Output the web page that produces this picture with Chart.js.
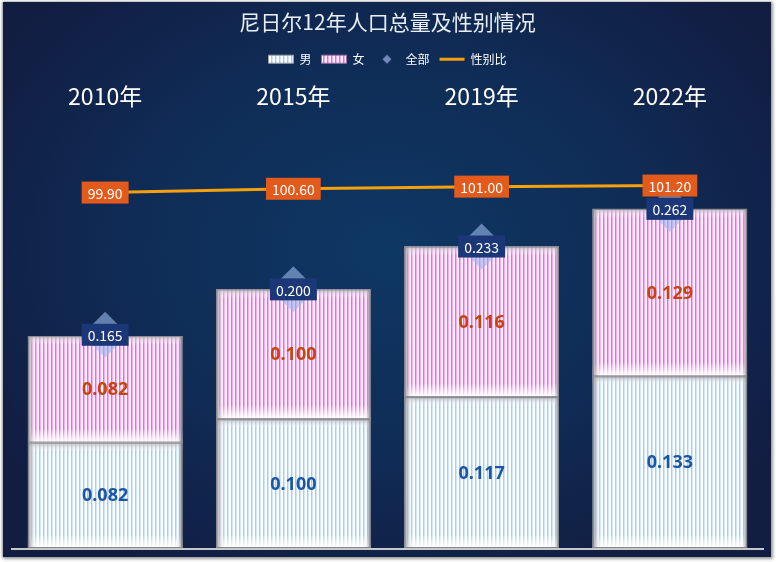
<!DOCTYPE html>
<html>
<head>
<meta charset="utf-8">
<script src="https://cdn.jsdelivr.net/npm/chart.js@4.4.0/dist/chart.umd.min.js"></script>
<style>
  html, body { margin: 0; padding: 0; background: #fff; }
  #frame {
    position: absolute; left: 3px; top: 2px; width: 768px; height: 555px;
    background: radial-gradient(ellipse 60% 65% at 50% 45%, #0e3864 0%, #0f2c56 55%, #121d42 100%);
    box-shadow: 1px 1px 3px 1px #9a9a9a, -1px 0 2px #b0b0b0;
  }
  canvas { display: block; }
</style>
</head>
<body>
<div id="frame"><canvas id="c" width="768" height="555"></canvas></div>
<script>
// data
const years = ['2010年', '2015年', '2019年', '2022年'];
const male = [0.082, 0.100, 0.117, 0.133];
const female = [0.082, 0.100, 0.116, 0.129];
const total = [0.165, 0.200, 0.233, 0.262];
const sexRatio = [99.90, 100.60, 101.00, 101.20];

Chart.defaults.font.family = '"Noto Sans CJK SC", "Noto Sans", sans-serif';

function stripes(bg, line) {
  const c = document.createElement('canvas');
  c.width = 4; c.height = 4;
  const g = c.getContext('2d');
  g.fillStyle = bg; g.fillRect(0, 0, 4, 4);
  g.fillStyle = line; g.fillRect(0, 0, 1.5, 4);
  return g.createPattern(c, 'repeat');
}
const malePattern = stripes('#ffffff', '#9fd0f5');
const femalePattern = stripes('#fff4ff', '#ff5cf5');

// small diamond for the legend
const legendDiamond = document.createElement('canvas');
legendDiamond.width = 12; legendDiamond.height = 12;
(function () {
  const g = legendDiamond.getContext('2d');
  g.fillStyle = '#7088bb';
  g.beginPath();
  g.moveTo(6, 1.5); g.lineTo(10.5, 6); g.lineTo(6, 10.5); g.lineTo(1.5, 6);
  g.closePath(); g.fill();
})();

// bevel look on the bars
const bevel = {
  id: 'bevel',
  afterDatasetDraw(chart, args) {
    if (args.index > 1) return;
    const ctx = chart.ctx;
    args.meta.data.forEach(el => {
      const { x, y, base, width } = el.getProps(['x', 'y', 'base', 'width'], true);
      const l = x - width / 2, r = x + width / 2;
      const t = Math.min(y, base), b = Math.max(y, base), h = b - t;
      ctx.save();
      let g = ctx.createLinearGradient(0, t, 0, t + 9);
      g.addColorStop(0, 'rgba(175,175,180,0.9)'); g.addColorStop(1, 'rgba(255,255,255,0)');
      ctx.fillStyle = g; ctx.fillRect(l, t, width, 9);
      g = ctx.createLinearGradient(0, b - 14, 0, b);
      g.addColorStop(0, 'rgba(255,255,255,0)'); g.addColorStop(1, 'rgba(255,255,255,1)');
      ctx.fillStyle = g; ctx.fillRect(l, b - 14, width, 14);
      g = ctx.createLinearGradient(l, 0, l + 9, 0);
      g.addColorStop(0, 'rgba(140,140,145,0.9)'); g.addColorStop(1, 'rgba(255,255,255,0)');
      ctx.fillStyle = g; ctx.fillRect(l, t, 9, h);
      g = ctx.createLinearGradient(r, 0, r - 6, 0);
      g.addColorStop(0, 'rgba(100,100,105,0.8)'); g.addColorStop(1, 'rgba(255,255,255,0)');
      ctx.fillStyle = g; ctx.fillRect(r - 6, t, 6, h);
      ctx.strokeStyle = '#85858c'; ctx.lineWidth = 1;
      ctx.strokeRect(l + 0.5, t + 0.5, width - 1, h - 1);
      ctx.restore();
    });
  }
};

function boxLabel(ctx, text, x, y, bg) {
  ctx.font = '14px "Noto Sans CJK SC", sans-serif';
  const w = ctx.measureText(text).width + 12, h = 22;
  ctx.fillStyle = bg;
  ctx.fillRect(x - w / 2, y - h / 2, w, h);
  ctx.fillStyle = '#ffffff';
  ctx.fillText(text, x, y + 1);
}

const valueLabels = {
  id: 'valueLabels',
  afterDatasetsDraw(chart) {
    const ctx = chart.ctx;
    ctx.save();
    ctx.textAlign = 'center';
    ctx.textBaseline = 'middle';
    [[0, '#1a56a5'], [1, '#c4440c']].forEach(([di, col]) => {
      chart.getDatasetMeta(di).data.forEach((el, i) => {
        ctx.font = 'bold 18px "Noto Sans", sans-serif';
        ctx.fillStyle = col;
        ctx.fillText(chart.data.datasets[di].data[i].toFixed(3), el.x, (el.y + el.base) / 2 + 1);
      });
    });
    chart.getDatasetMeta(2).data.forEach((el, i) => {
      boxLabel(ctx, total[i].toFixed(3), el.x, el.y, '#1c3777');
    });
    chart.getDatasetMeta(3).data.forEach((el, i) => {
      boxLabel(ctx, sexRatio[i].toFixed(2), el.x, el.y, '#e25a1c');
    });
    ctx.restore();
  }
};

new Chart(document.getElementById('c'), {
  type: 'bar',
  data: {
    labels: years,
    datasets: [
      { label: '男', data: male, backgroundColor: malePattern, borderWidth: 0, stack: 's', order: 3 },
      { label: '女', data: female, backgroundColor: femalePattern, borderWidth: 0, stack: 's', order: 4 },
      {
        type: 'line', label: '全部', data: total, showLine: false, stack: 't', order: 2,
        pointStyle: 'rectRot', pointRadius: 23, pointHoverRadius: 23, pointBorderWidth: 0,
        pointBackgroundColor: 'rgba(150,180,230,0.62)'
      },
      {
        type: 'line', label: '性别比', data: sexRatio, yAxisID: 'y2', order: 1,
        borderColor: '#f5a00c', borderWidth: 3, pointRadius: 0, tension: 0
      }
    ]
  },
  options: {
    responsive: false,
    animation: false,
    layout: { autoPadding: false, padding: { left: 8, right: 7, bottom: 8 } },
    datasets: { bar: { categoryPercentage: 1, barPercentage: 0.82 } },
    plugins: {
      title: {
        display: true, text: '尼日尔12年人口总量及性别情况', color: '#e8eef6',
        font: { size: 21, weight: 'normal' }, padding: { top: 7, bottom: 9 }
      },
      legend: {
        labels: {
          color: '#ffffff', font: { size: 12 }, usePointStyle: true,
          pointStyleWidth: 25, boxHeight: 8, padding: 10,
          generateLabels(chart) {
            const st = [
              { pointStyle: 'rect', fillStyle: malePattern, strokeStyle: '#a0a0a8', lineWidth: 1 },
              { pointStyle: 'rect', fillStyle: femalePattern, strokeStyle: '#a070a8', lineWidth: 1 },
              { pointStyle: legendDiamond, fillStyle: '#7088bb', strokeStyle: '#7088bb', lineWidth: 0 },
              { pointStyle: 'line', fillStyle: '#f5a00c', strokeStyle: '#f5a00c', lineWidth: 3 }
            ];
            return chart.data.datasets.map((ds, i) => Object.assign({
              text: ds.label, fontColor: '#ffffff', datasetIndex: i, hidden: false
            }, st[i]));
          }
        }
      },
      tooltip: { enabled: false }
    },
    scales: {
      x: {
        position: 'top',
        grid: { display: false, drawTicks: false },
        border: { display: false },
        ticks: { color: '#ffffff', font: { size: 23 }, padding: 16 },
        afterFit(scale) { scale.height -= 9; }
      },
      y: {
        stacked: true, min: 0, max: 0.326, z: 1,
        ticks: { display: false },
        border: { display: false },
        grid: {
          drawTicks: false, lineWidth: 2,
          color: c => (c.tick && c.tick.value === 0 ? '#c8c8c8' : 'transparent')
        }
      },
      y2: { display: false, min: 33.7, max: 112.3 }
    }
  },
  plugins: [bevel, valueLabels]
});
</script>
</body>
</html>
